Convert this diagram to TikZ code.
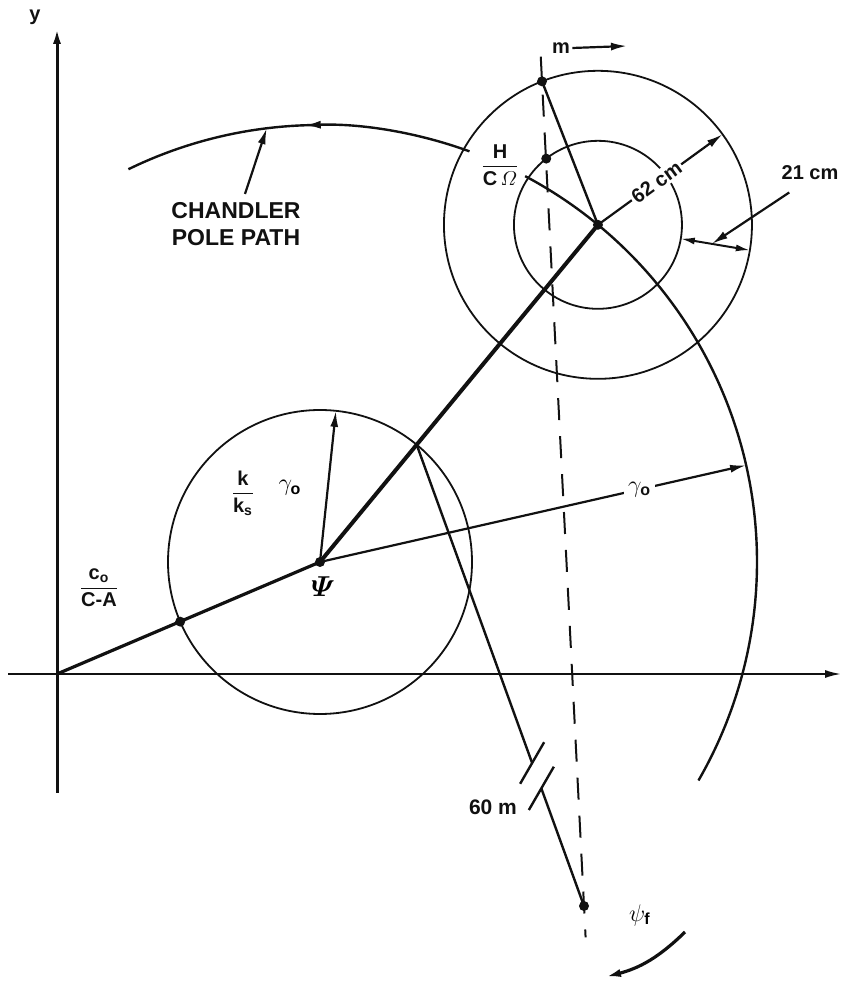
\documentclass[tikz,border=0pt]{standalone}
\usepackage[no-math]{fontspec}
\setsansfont{Liberation Sans}
\usepackage{amsmath}
\usetikzlibrary{arrows.meta,calc}
\definecolor{ink}{HTML}{111111}
\newcommand{\bs}[1]{\textsf{\textbf{#1}}}
\tikzset{lbl/.style={font=\sffamily\bfseries\fontsize{10}{12}\selectfont,inner sep=1pt,ink},
         circ/.style={ink,line width=0.9pt},
         mid/.style={ink,line width=1.2pt},
         heavy/.style={ink,line width=2pt},
         arr/.style={-{Latex[length=8pt,width=4pt]},ink,line width=1.1pt},
         dbl/.style={{Latex[length=7pt,width=3.5pt]}-{Latex[length=7pt,width=3.5pt]},ink,line width=1pt},
         dot/.style={circle,fill=ink,inner sep=0pt,minimum size=5pt},
         dashln/.style={ink,line width=1pt,dash pattern=on 11pt off 8pt}}

\begin{document}
\begin{tikzpicture}[x=0.5pt,y=0.5pt]
 \useasboundingbox (0,0) rectangle (842,981);
 % axes
 \coordinate (O) at (57,307);
 \coordinate (xl) at (8,307); \coordinate (xr) at (841,307);
 \coordinate (yb) at (57,188); \coordinate (yt) at (57,953);
 \draw[arr,line width=0.9pt] (xl) -- (xr);
 \draw[arr,line width=1.5pt] (yb) -- (yt);
 \node[lbl] (ylab) at (35,964) {y};
 % psi circle and pole path
 \coordinate (psi) at (320,419);
 \coordinate (ctr) at ($(psi)+(50.5:437)$);
 \draw[circ] (psi) circle[radius=152];
 \draw[circ] (ctr) circle[radius=154];
 \draw[circ] (ctr) circle[radius=84];
 \coordinate (pp1) at ($(psi)+(116:437)$);
 \coordinate (pp2) at ($(psi)+(70:437)$);
 \coordinate (pp3) at ($(psi)+(62:437)$);
 \draw[arr,line width=1.2pt] (pp2) arc[start angle=70,end angle=92,radius=437];
 \draw[mid] ($(psi)+(90.5:437)$) arc[start angle=90.5,end angle=116,radius=437];
 \draw[mid] (pp3) arc[start angle=62,end angle=-30,radius=437];
 \node[lbl,font=\sffamily\bfseries\fontsize{11.5}{13.5}\selectfont,align=center] (cpp) at (236,757) {CHANDLER\\POLE PATH};
 \draw[arr] ([xshift=4.5pt,yshift=3pt]cpp.north) -- ($(psi)+(97:437)$);
 % dots
 \node[dot] (psidot) at (psi) {};
 \node[dot] (cdot) at (ctr) {};
 \node[dot] (adot) at ($(psi)+(203.1:152)$) {};
 \node[dot] (mdot) at ($(ctr)+(111.3:154)$) {};
 \node[dot] (hdot) at ($(ctr)+(128:84)$) {};
 \node[dot] (fdot) at (584,75) {};
 % lines
 \draw[mid,line width=1.6pt] (O) -- (psi);
 \draw[heavy] (psi) -- (ctr);
 \draw[mid] (mdot.center) -- (ctr);
 \draw[dashln] ($(mdot)!-0.03!(fdot)$) -- ($(fdot)!-0.038!(mdot)$);
 \draw[arr] (psi) -- ($(psi)+(84:152)$);
 \draw[arr] (psi) -- node[pos=0.75,fill=white,inner sep=2pt]{\fontsize{12}{14}\selectfont$\gamma_{\bs{o}}$} ($(psi)+(12.8:437)$);
 % 60 m line with break
 \coordinate (b0) at ($(psi)+(50.5:152)$);
 \coordinate (br1) at ($(b0)!0.69!(fdot)$);
 \coordinate (br2) at ($(b0)!0.745!(fdot)$);
 \draw[mid] (b0) -- (br1);
 \draw[mid] (br2) -- (fdot.center);
 \draw[mid] ($(br1)+(60:24)$) -- ($(br1)+(240:24)$);
 \draw[mid] ($(br2)+(60:25)$) -- ($(br2)+(240:25)$);
 \node[lbl,font=\sffamily\bfseries\fontsize{10.5}{12}\selectfont] (l60) at (493,174) {60 m};
 % dimensions
 \draw[arr] (ctr) -- node[lbl,sloped,fill=white,pos=0.47]{62 cm} ($(ctr)+(36:154)$);
 \coordinate (i21) at ($(ctr)+(-9.5:84)$);
 \coordinate (o21) at ($(ctr)+(-9.5:154)$);
 \draw[dbl] (i21) -- (o21);
 \node[lbl] (t21) at (810,808) {21 cm};
 \draw[arr] ([xshift=5pt,yshift=-5pt]t21.south west) -- ($(i21)!0.45!(o21)$);
 \node[lbl] (mlab) at (561,933) {m};
 \coordinate (mtip) at (627,935);
 \draw[arr] (mlab.east) -- (mtip);
 % labels
 \node[lbl] (hfrac) at (500,816) {$\dfrac{\bs{H}}{\bs{C}\,\varOmega}$};
 \node[lbl] (kfrac) at (243,488) {$\dfrac{\bs{k}}{\bs{k}_{\bs{s}}}$};
 \node (kgam) at (290,493) {\fontsize{12}{14}\selectfont$\gamma_{\bs{o}}$};
 \node[lbl] (cfrac) at (99,393) {$\dfrac{\bs{c}_{\bs{o}}}{\bs{C-A}}$};
 \node (psilab) at (323,394) {\fontsize{15}{17}\selectfont$\boldsymbol{\varPsi}$};
 \node (flab) at (640,66) {\fontsize{12}{14}\selectfont$\psi_{\bs{f}}$};
 \coordinate (ra) at (685,49); \coordinate (rb) at (605,4);
 \draw[arr,line width=1.6pt] (ra) to[bend left=15] (rb);
\end{tikzpicture}
\end{document}
